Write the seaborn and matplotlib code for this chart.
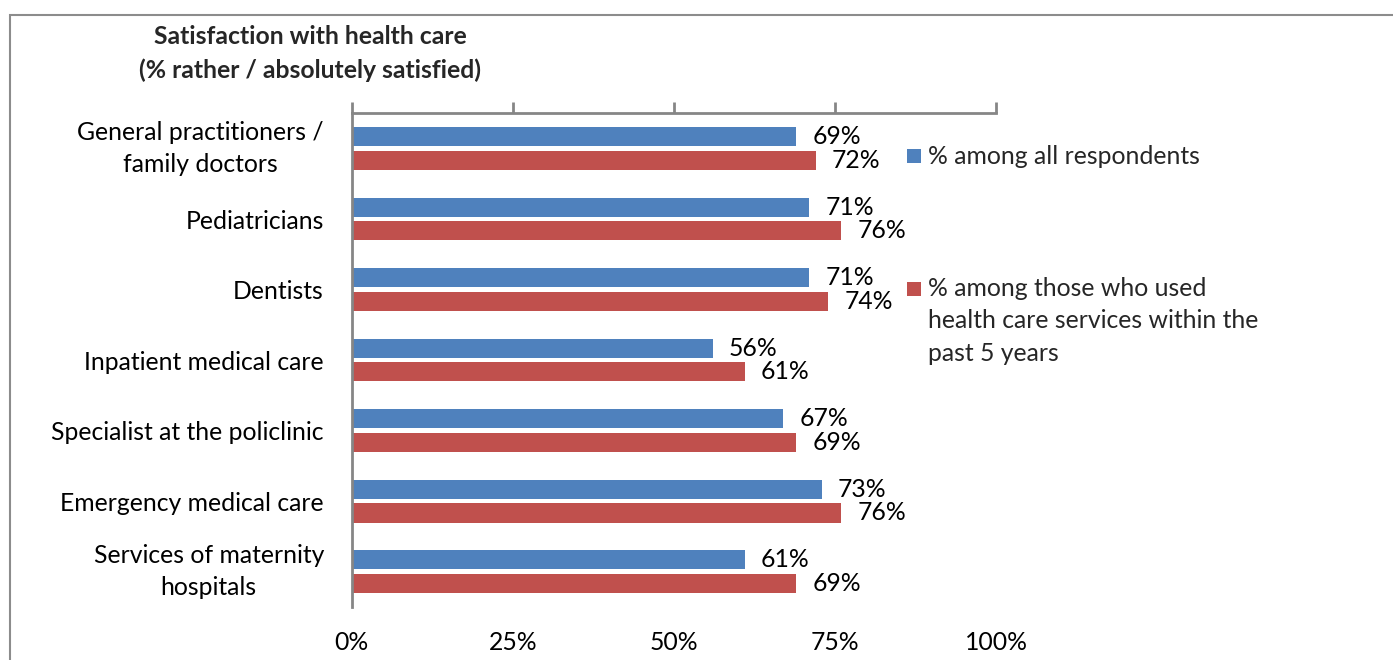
import matplotlib
matplotlib.use("Agg")
import matplotlib.pyplot as plt
from matplotlib.patches import Rectangle
import pandas as pd
import seaborn as sns

# Survey categories and satisfaction shares (%)
categories = [
    "General practitioners /\nfamily doctors",
    "Pediatricians",
    "Dentists",
    "Inpatient medical care",
    "Specialist at the policlinic",
    "Emergency medical care",
    "Services of maternity\nhospitals",
]
all_respondents = [69, 71, 71, 56, 67, 73, 61]
recent_users = [72, 76, 74, 61, 69, 76, 69]

series_names = [
    "% among all respondents",
    "% among those who used\nhealth care services within the\npast 5 years",
]
series_colors = ["#4F81BD", "#C0504D"]
x_ticks = [0, 25, 50, 75, 100]
x_tick_labels = ["0%", "25%", "50%", "75%", "100%"]
title_text = "Satisfaction with health care\n(% rather / absolutely satisfied)"

df = pd.DataFrame({
    "category": categories * 2,
    "value": all_respondents + recent_users,
    "series": [series_names[0]] * len(categories) + [series_names[1]] * len(categories),
})

sns.set_theme(style="white")
plt.rcParams["font.family"] = ["Lato", "DejaVu Sans"]
FS = 17.8
GRAY = "#868686"

W, H = 1393, 660
fig = plt.figure(figsize=(W / 100, H / 100), dpi=100)
ax = fig.add_axes([351.7 / W, 1 - 607 / H, (996 - 351.7) / W, (607 - 113.3) / H])

sns.barplot(
    data=df, x="value", y="category", hue="series", orient="h",
    palette=series_colors, width=0.668, gap=0.19, ax=ax,
    legend=False, linewidth=0, saturation=1,
)

ax.set_xlim(0, 100)
ax.set_xticks(x_ticks)
ax.set_xticklabels(x_tick_labels, fontsize=FS, color="black")
ax.set_xlabel("")
ax.set_ylabel("")
ax.tick_params(axis="x", top=True, bottom=False, labeltop=False, labelbottom=True,
               direction="out", length=8, width=2, color=GRAY, pad=9)
ax.tick_params(axis="y", left=False, pad=14, labelsize=FS, labelcolor="black")
for lab in ax.get_yticklabels():
    lab.set_multialignment("center")
    lab.set_linespacing(1.5)
    if "\n" in lab.get_text():
        lab.set_verticalalignment("center")

for side in ["right", "bottom"]:
    ax.spines[side].set_visible(False)
for side in ["left", "top"]:
    ax.spines[side].set_color(GRAY)
    ax.spines[side].set_linewidth(2)

# value labels at the end of each bar
for cont, vals in zip(ax.containers, [all_respondents, recent_users]):
    ax.bar_label(cont, labels=[f"{v}%" for v in vals], padding=11.5,
                 fontsize=FS, color="black")

# title
fig.text(310 / W, 1 - 53.5 / H, title_text, ha="center", va="center",
         fontsize=FS, fontweight="bold", linespacing=1.53)

# legend boxes and texts
LINE_PX = 32.0
leg_entries = [(156, series_names[0]), (289, series_names[1])]
for (yc, name), col in zip(leg_entries, series_colors):
    fig.add_artist(Rectangle((907 / W, 1 - (yc + 7) / H), 14 / W, 14 / H,
                             transform=fig.transFigure, color=col, lw=0))
    n = name.count("\n")
    fig.text(928 / W, 1 - (yc + n * LINE_PX / 2) / H, name, ha="left", va="center",
             fontsize=FS, linespacing=1.48)

# outer frame
fig.add_artist(Rectangle((9.5 / W, -0.2), 1.2, 1.2 - 15 / H, transform=fig.transFigure,
                         fill=False, edgecolor="#8c8c8c", lw=1.5, clip_on=False))

fig.savefig("out.png", dpi=100)
